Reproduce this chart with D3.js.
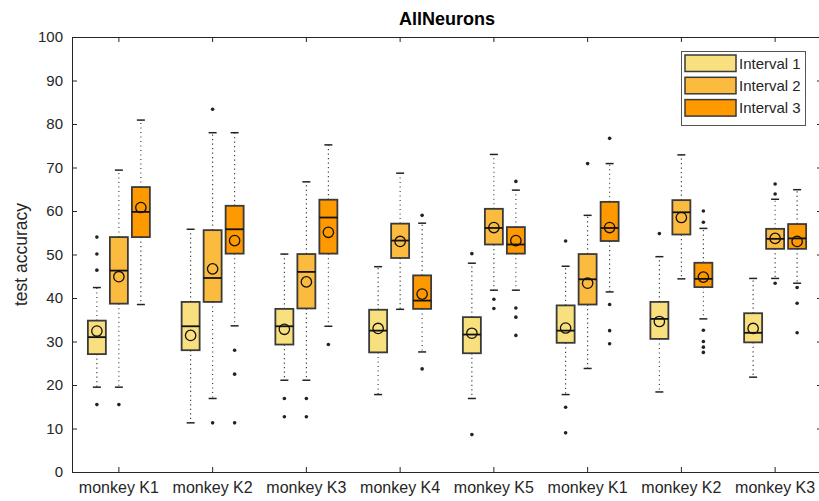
<!DOCTYPE html>
<html>
<head>
<meta charset="utf-8">
<script src="https://cdn.jsdelivr.net/npm/d3@7"></script>
<style>
  body { margin: 0; background: #fff; }
  svg { display: block; font-family: "Liberation Sans", Arial, Helvetica, sans-serif; }
</style>
</head>
<body>
<svg id="chart" width="819" height="501"></svg>
<script>
const categories = ["monkey K1","monkey K2","monkey K3","monkey K4","monkey K5","monkey K1","monkey K2","monkey K3"];
const intervals = ["Interval 1","Interval 2","Interval 3"];
const colors = ["#f8e07e","#fbbb3f","#ff9900"];
const yTicks = [0,10,20,30,40,50,60,70,80,90,100];

// Interval 1
const i1_q1   = [27.1, 28.0, 29.3, 27.5, 27.3, 29.7, 30.6, 29.8];
const i1_med  = [31.0, 33.5, 33.5, 32.5, 31.6, 32.5, 35.2, 32.0];
const i1_q3   = [34.8, 39.1, 37.5, 37.3, 35.6, 38.3, 39.1, 36.5];
const i1_mean = [32.4, 31.4, 32.8, 33.0, 31.9, 33.1, 34.6, 33.0];
const i1_wlo  = [19.5, 11.3, 21.1, 17.8, 16.9, 17.8, 18.4, 21.8];
const i1_whi  = [42.4, 55.8, 50.1, 47.2, 48.0, 47.3, 49.5, 44.5];
const i1_out  = [[54.0,50.1,46.4,15.5],[],[16.9,12.7],[],[50.2,8.6],[53.1,14.9,9.0],[54.8],[]];

// Interval 2
const i2_q1   = [38.7, 39.1, 37.6, 49.2, 52.3, 38.5, 54.6, 51.3];
const i2_med  = [46.3, 44.6, 46.0, 53.2, 56.1, 44.3, 59.7, 53.6];
const i2_q3   = [54.0, 55.6, 50.1, 57.1, 60.5, 50.1, 62.5, 55.9];
const i2_mean = [44.9, 46.7, 43.7, 53.0, 56.2, 43.4, 58.5, 53.7];
const i2_wlo  = [19.5, 16.9, 21.1, 37.4, 41.8, 23.8, 44.4, 44.5];
const i2_whi  = [69.4, 78.0, 66.7, 68.7, 73.0, 59.0, 72.9, 62.7];
const i2_out  = [[15.5],[83.4,11.3],[16.9,12.7],[],[39.7,37.6],[70.9],[],[66.2,63.9,43.4]];

// Interval 3
const i3_q1   = [54.0, 50.2, 50.2, 37.5, 50.2, 53.1, 42.5, 51.3];
const i3_med  = [59.8, 55.8, 58.5, 39.4, 52.3, 56.1, 44.4, 53.7];
const i3_q3   = [65.5, 61.2, 62.6, 45.2, 56.3, 62.1, 48.1, 57.0];
const i3_mean = [60.8, 53.2, 55.1, 40.9, 53.2, 56.2, 44.8, 53.0];
const i3_wlo  = [38.5, 33.6, 33.5, 27.6, 41.8, 41.4, 35.2, 43.4];
const i3_whi  = [80.9, 78.0, 75.2, 57.2, 64.8, 70.9, 56.0, 64.9];
const i3_out  = [[],[28.0,22.5,11.3],[29.3],[59.0,23.7],[66.8,37.7,35.6,31.4],[76.7,38.5,32.5,29.5],[60.0,57.4,32.6,30.0,28.7,27.5],[42.4,38.8,32.0]];

const series = [
  {q1:i1_q1, med:i1_med, q3:i1_q3, mean:i1_mean, wlo:i1_wlo, whi:i1_whi, out:i1_out},
  {q1:i2_q1, med:i2_med, q3:i2_q3, mean:i2_mean, wlo:i2_wlo, whi:i2_whi, out:i2_out},
  {q1:i3_q1, med:i3_med, q3:i3_q3, mean:i3_mean, wlo:i3_wlo, whi:i3_whi, out:i3_out}
];

const svg = d3.select("#chart");
const mLeft = 72, mRight = 822, mTop = 37, mBottom = 472;
const textCol = "#262626";

const x = d3.scaleBand().domain(d3.range(categories.length)).range([mLeft, mRight]);
const xi = d3.scalePoint().domain(intervals).range([-22, 22]);
const y = d3.scaleLinear().domain([0, 100]).range([mBottom, mTop]);
const boxW = 18, capW = 8;

// Axes
const gL = svg.append("g").attr("transform", `translate(${mLeft},0)`)
  .call(d3.axisLeft(y).tickValues(yTicks).tickSizeInner(-5).tickSizeOuter(0).tickPadding(9));
const gR = svg.append("g").attr("transform", `translate(${mRight},0)`)
  .call(d3.axisRight(y).tickValues(yTicks).tickSizeInner(-5).tickSizeOuter(0).tickFormat(""));
const gB = svg.append("g").attr("transform", `translate(0,${mBottom})`)
  .call(d3.axisBottom(x).tickFormat(i => categories[i]).tickSizeInner(-5).tickSizeOuter(0).tickPadding(10));
const gT = svg.append("g").attr("transform", `translate(0,${mTop})`)
  .call(d3.axisTop(x).tickFormat("").tickSizeInner(-5).tickSizeOuter(0));
[gL, gR, gB, gT].forEach(g => {
  g.selectAll("path.domain").attr("stroke", textCol).attr("stroke-width", 1);
  g.selectAll(".tick line").attr("stroke", textCol);
  g.selectAll("text").attr("fill", textCol).style("font-size", "15px")
    .style("font-family", '"Liberation Sans", Arial, sans-serif');
});
gB.selectAll("text").style("font-size", "16px");

// Boxes
const plot = svg.append("g");
series.forEach((s, si) => {
  const g = plot.append("g");
  const cx = i => x(i) + x.bandwidth() / 2 + xi(intervals[si]);
  const idx = d3.range(categories.length);

  // whiskers (dotted)
  g.selectAll("line.wu").data(idx).join("line").attr("class", "wu")
    .attr("x1", cx).attr("x2", cx)
    .attr("y1", i => y(s.q3[i])).attr("y2", i => y(s.whi[i]))
    .attr("stroke", "#333").attr("stroke-width", 1.1).attr("stroke-dasharray", "1.2,3.3");
  g.selectAll("line.wl").data(idx).join("line").attr("class", "wl")
    .attr("x1", cx).attr("x2", cx)
    .attr("y1", i => y(s.q1[i])).attr("y2", i => y(s.wlo[i]))
    .attr("stroke", "#333").attr("stroke-width", 1.1).attr("stroke-dasharray", "1.2,3.3");
  // caps
  ["whi", "wlo"].forEach(k => {
    g.selectAll("line.c" + k).data(idx).join("line").attr("class", "c" + k)
      .attr("x1", i => cx(i) - capW / 2).attr("x2", i => cx(i) + capW / 2)
      .attr("y1", i => y(s[k][i])).attr("y2", i => y(s[k][i]))
      .attr("stroke", "#222").attr("stroke-width", 1.5);
  });
  // boxes
  g.selectAll("rect.box").data(idx).join("rect").attr("class", "box")
    .attr("x", i => cx(i) - boxW / 2).attr("width", boxW)
    .attr("y", i => y(s.q3[i])).attr("height", i => y(s.q1[i]) - y(s.q3[i]))
    .attr("fill", colors[si]).attr("stroke", "#3a3a3a").attr("stroke-width", 1.8);
  // medians
  g.selectAll("line.med").data(idx).join("line").attr("class", "med")
    .attr("x1", i => cx(i) - boxW / 2).attr("x2", i => cx(i) + boxW / 2)
    .attr("y1", i => y(s.med[i])).attr("y2", i => y(s.med[i]))
    .attr("stroke", "#111").attr("stroke-width", 1.8);
  // means
  g.selectAll("circle.mean").data(idx).join("circle").attr("class", "mean")
    .attr("cx", cx).attr("cy", i => y(s.mean[i])).attr("r", 5.2)
    .attr("fill", "none").attr("stroke", "#111").attr("stroke-width", 1.3);
  // outliers
  const outs = idx.flatMap(i => s.out[i].map(v => ({i, v})));
  g.selectAll("circle.out").data(outs).join("circle").attr("class", "out")
    .attr("cx", d => cx(d.i)).attr("cy", d => y(d.v)).attr("r", 1.8)
    .attr("fill", "#222");
});

// Title
svg.append("text").attr("x", (mLeft + mRight) / 2).attr("y", 25)
  .attr("text-anchor", "middle").style("font-size", "18px").style("font-weight", "bold")
  .attr("fill", "#000").text("AllNeurons");

// Y label
svg.append("text").attr("transform", `translate(27,${(mTop + mBottom) / 2}) rotate(-90)`)
  .attr("text-anchor", "middle").style("font-size", "17.5px").attr("fill", textCol)
  .text("test accuracy");

// Legend
const leg = svg.append("g");
leg.append("rect").attr("x", 681.5).attr("y", 51.5).attr("width", 124).attr("height", 74)
  .attr("fill", "#fff").attr("stroke", "#555").attr("stroke-width", 1);
intervals.forEach((name, k) => {
  const yy = 55 + k * 22.3;
  leg.append("rect").attr("x", 685).attr("y", yy).attr("width", 51).attr("height", 16.5)
    .attr("fill", colors[k]).attr("stroke", "#3a3a3a").attr("stroke-width", 1.5);
  leg.append("text").attr("x", 739).attr("y", yy + 13.5).style("font-size", "15px")
    .attr("fill", textCol).text(name);
});
</script>
</body>
</html>
